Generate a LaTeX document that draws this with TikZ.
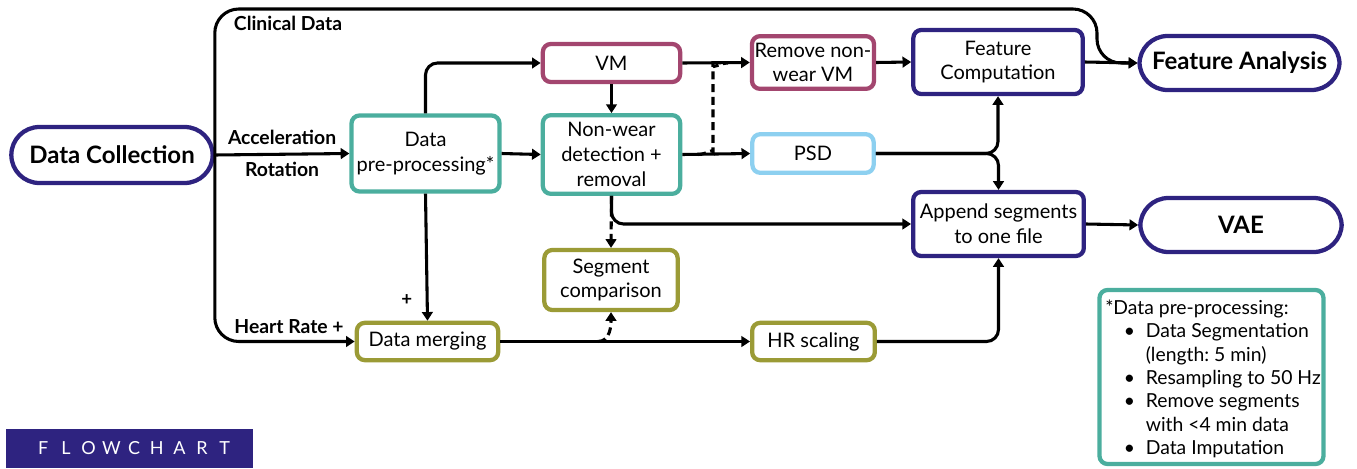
\documentclass[tikz,border=0pt]{standalone}
\usepackage{fontspec}
\setmainfont{Lato}
\usetikzlibrary{arrows.meta}
\frenchspacing
\definecolor{cpurple}{HTML}{2E2380}
\definecolor{cteal}{HTML}{4BAE9E}
\definecolor{cmag}{HTML}{A3466F}
\definecolor{cblue}{HTML}{8DD0F0}
\definecolor{colive}{HTML}{9B9B36}
\newcommand\flw[1]{\makebox[17pt]{#1}}
\tikzset{
  box/.style={draw, line width=3.2pt, rounded corners=6pt, align=center, inner sep=2pt,
    font=\fontsize{15}{18.5}\selectfont},
  term/.style={draw=cpurple, line width=3.2pt, rounded corners=21pt, align=center,
    font=\fontsize{18}{21}\selectfont\bfseries},
  lbl/.style={font=\fontsize{14.5}{17}\selectfont\bfseries, inner sep=1pt},
  conn/.style={line width=2.3pt, rounded corners=9pt},
  arr/.style={conn, -{Triangle[length=6.5pt,width=8pt]}},
  dconn/.style={conn, dash pattern=on 6pt off 3.5pt},
  darr/.style={dconn, -{Triangle[length=6.5pt,width=8pt]}},
}
\begin{document}
\begin{tikzpicture}[x=0.75pt,y=-0.75pt]
\useasboundingbox (0,0) rectangle (1357,468);
% nodes
\node[term, minimum width=151pt, minimum height=42pt] (dc) at (112,155) {Data Collection};
\node[box, draw=cteal, minimum width=111pt, minimum height=57pt] (pre) at (425.5,153.5) {Data\\pre-processing*};
\node[box, draw=cmag, minimum width=103pt, minimum height=28.5pt] (vm) at (611.5,63) {VM};
\node[box, draw=cteal, minimum width=103pt, minimum height=59pt] (nw) at (611.5,154.5) {Non-wear\\detection +\\removal};
\node[box, draw=cmag, minimum width=91pt, minimum height=39.5pt] (rm) at (813,62.5) {Remove non-\\wear VM};
\node[box, draw=cblue, minimum width=91pt, minimum height=29pt] (psd) at (813,153.5) {PSD};
\node[box, draw=cpurple, minimum width=127pt, minimum height=48pt] (fc) at (998,62) {Feature\\Computation};
\node[term, minimum width=150pt, minimum height=40.5pt] (fa) at (1239.5,63) {Feature Analysis};
\node[box, draw=cpurple, minimum width=128pt, minimum height=48pt] (ap) at (998.5,224) {Append segments\\to one file};
\node[term, minimum width=151pt, minimum height=40.5pt] (vae) at (1241,225) {VAE};
\node[box, draw=colive, minimum width=100pt, minimum height=45pt] (sc) at (611,280) {Segment\\comparison};
\node[box, draw=colive, minimum width=106pt, minimum height=28pt] (dm) at (427.5,341.5) {Data merging};
\node[box, draw=colive, minimum width=92pt, minimum height=28pt] (hr) at (813.5,341.5) {HR scaling};
\node[draw=cteal, line width=3.2pt, rounded corners=6pt, minimum width=168pt, minimum height=130.5pt] (note) at (1211.5,377) {};
\node[anchor=north west, inner sep=0pt, font=\fontsize{14.5}{17.5}\selectfont] (notetxt) at (1105,298)
 {\begin{tabular}{@{\hspace{14pt}}l@{\hspace{8pt}}l@{}}
  \multicolumn{2}{@{}l@{}}{*Data pre-processing:}\\
  \textbullet & Data Segmentation\\
   & (length: 5 min)\\
  \textbullet & Resampling to 50 Hz\\
  \textbullet & Remove segments\\
   & with <4 min data\\
  \textbullet & Data Imputation
 \end{tabular}};
\fill[cpurple] (6,429) rectangle (253,468);
\node[text=white, font=\fontsize{13.5}{16}\selectfont, inner sep=0pt] (flow) at (134,448)
 {\flw F\flw L\flw O\flw W\flw C\flw H\flw A\flw R\flw T};
% labels
\node[lbl] (cdl) at (288,23) {Clinical Data};
\node[lbl] (hrl) at (289,327) {Heart Rate +};
% coordinates
\coordinate (cdtop) at (1097,9);
\coordinate (dS) at (698,154.5);
\coordinate (dT) at (728,63);
\coordinate (mS) at (598,341.5);
% connectors
\draw[arr] (dc.east) -- node[lbl, above=5pt] {Acceleration} node[lbl, below=4pt] {Rotation} (pre.west);
\draw[arr, rounded corners=18pt] (dc.east) |- (cdtop) |- (fa.west);
\draw[arr, rounded corners=18pt] (dc.east) |- (dm.west);
\draw[arr] (pre.north) |- (vm.west);
\draw[arr] (pre.east) -- (nw.west);
\draw[arr] (vm.south) -- (nw.north);
\draw[arr] (nw.east) -- (psd.west);
\draw[arr] (vm.east) -- (rm.west);
\draw[dconn] (dS) to[out=0,in=-90] (713,140) -- (713,77) to[out=90,in=180] (dT);
\draw[arr] (rm.east) -- (fc.west);
\draw[arr] (fc.east) -- (fa.west);
\draw[arr] (psd.east) -| (fc.south);
\draw[arr] (psd.east) -| (ap.north);
\draw[arr] (nw.south) |- (ap.west);
\draw[darr] (nw.south) -- (sc.north);
\draw[arr] (pre.south) -- node[pos=0.84, left=10pt, font=\fontsize{14}{16}\selectfont\bfseries, inner sep=0pt] {+} (dm.north);
\draw[arr] (dm.east) -- (hr.west);
\draw[darr] (mS) to[out=0,in=-90] (sc.south);
\draw[arr] (hr.east) -| (ap.south);
\draw[arr] (ap.east) -- (vae.west);
\end{tikzpicture}
\end{document}
